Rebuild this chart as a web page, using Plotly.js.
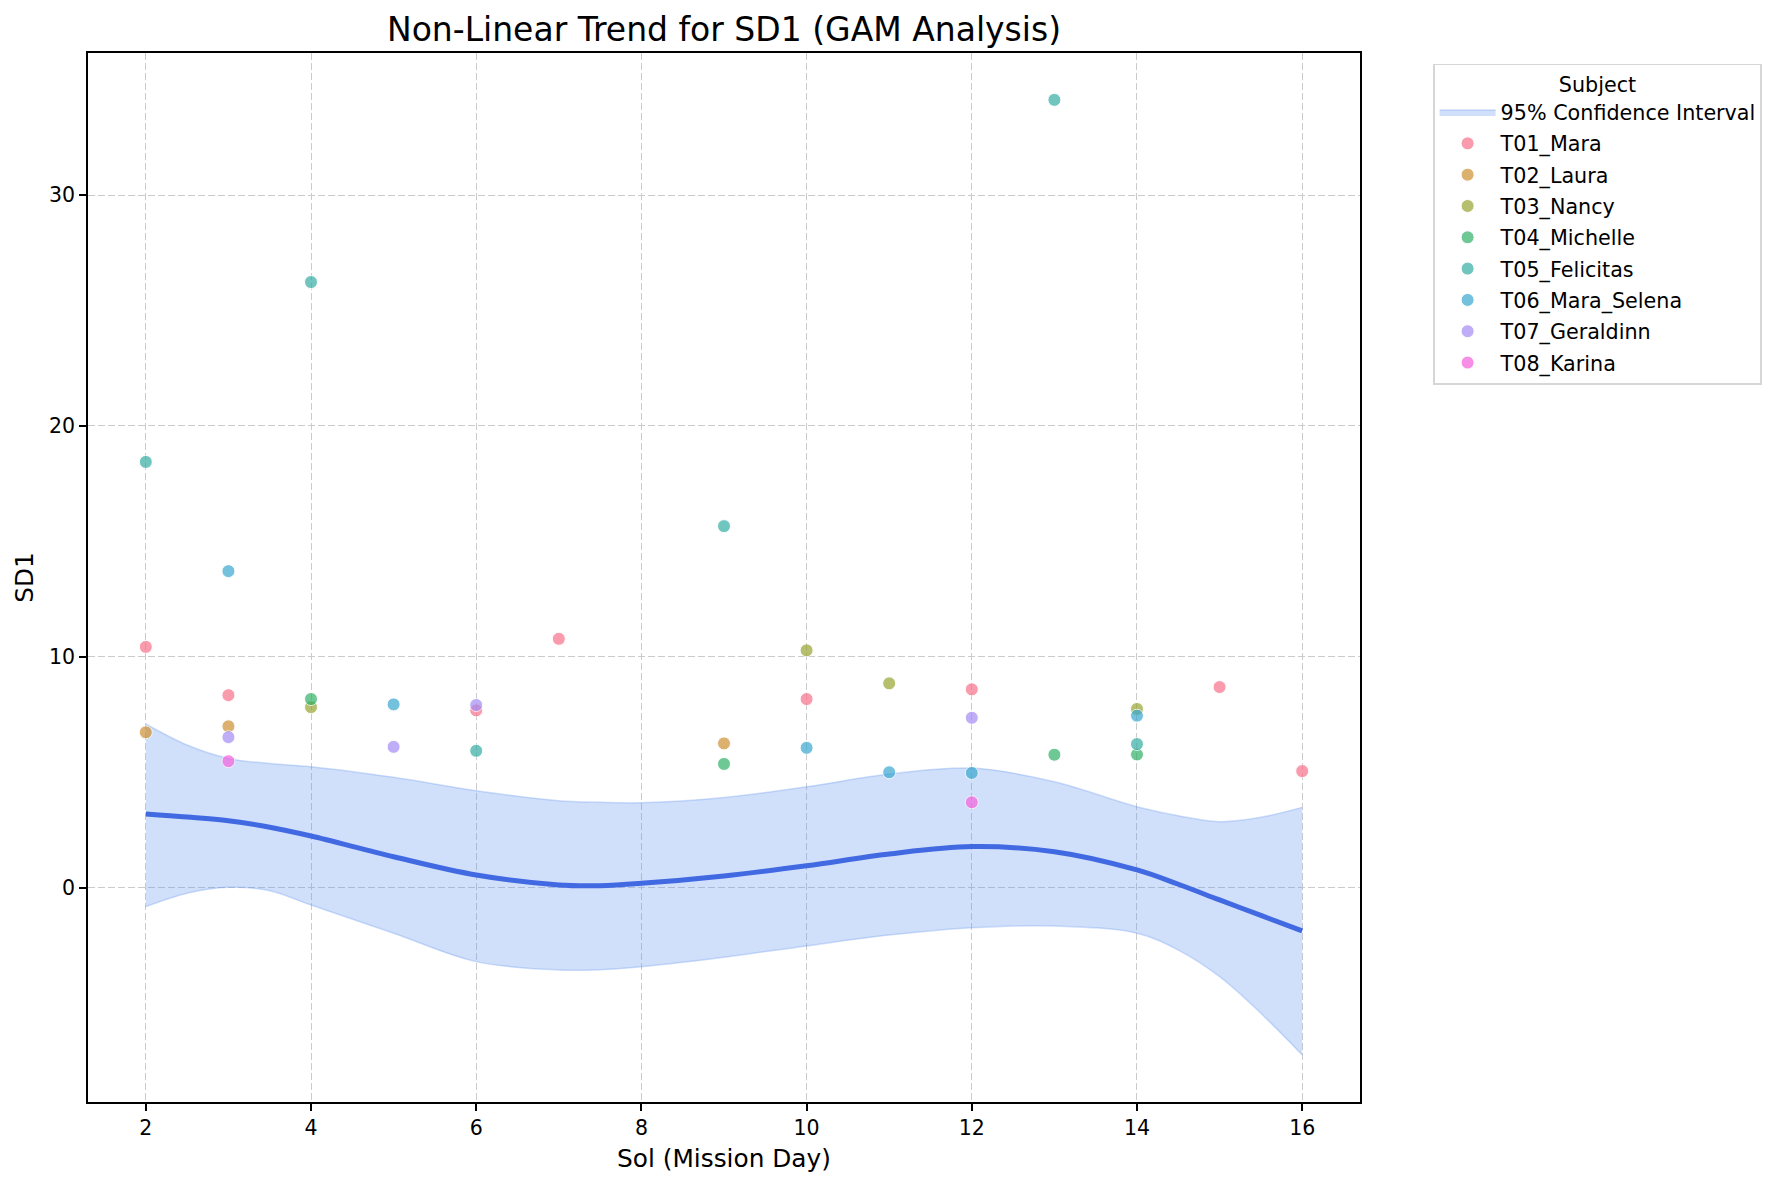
<!DOCTYPE html>
<html>
<head>
<meta charset="utf-8">
<script src="https://cdn.plot.ly/plotly-3.0.1.min.js"></script>
<style>
  html, body { margin: 0; padding: 0; background: #fff; }
  #chart { width: 1779px; height: 1184px; }
</style>
</head>
<body>
<div id="chart"></div>
<script>
// Subjects and their palette (husl, 8 colours)
const subjects = ["T01_Mara", "T02_Laura", "T03_Nancy", "T04_Michelle",
  "T05_Felicitas", "T06_Mara_Selena", "T07_Geraldinn", "T08_Karina"];
const subjectColors = ["#f77189", "#ce9032", "#97a431", "#32b166",
  "#36ada4", "#39a7d0", "#a48cf4", "#f561dd"];

// Observed SD1 per subject (sol, value)
const solT01 = [2, 3, 6, 7, 10, 12, 15, 16];
const sd1T01 = [10.43, 8.34, 7.68, 10.78, 8.17, 8.59, 8.69, 5.05];
const solT02 = [2, 3, 9];
const sd1T02 = [6.73, 6.99, 6.25];
const solT03 = [4, 10, 11, 14];
const sd1T03 = [7.82, 10.28, 8.85, 7.74];
const solT04 = [4, 9, 13, 14];
const sd1T04 = [8.17, 5.36, 5.76, 5.77];
const solT05 = [2, 4, 6, 9, 13, 14];
const sd1T05 = [18.44, 26.23, 5.93, 15.66, 34.12, 6.22];
const solT06 = [3, 5, 10, 11, 12, 14];
const sd1T06 = [13.71, 7.94, 6.06, 5.0, 4.97, 7.45];
const solT07 = [3, 5, 6, 12];
const sd1T07 = [6.52, 6.10, 7.91, 7.36];
const solT08 = [3, 12];
const sd1T08 = [5.48, 3.70];

const subjectSol = [solT01, solT02, solT03, solT04, solT05, solT06, solT07, solT08];
const subjectSd1 = [sd1T01, sd1T02, sd1T03, sd1T04, sd1T05, sd1T06, sd1T07, sd1T08];

// GAM fit and 95% confidence band
const gamSol = [2, 2.5, 3, 3.5, 4, 5, 6, 7, 7.5, 8, 9, 10, 11, 12, 13, 14, 14.5, 15, 15.5, 16];
const gamFit = [3.19, 3.06, 2.90, 2.62, 2.24, 1.34, 0.55, 0.12, 0.09, 0.19, 0.51, 0.95,
  1.46, 1.78, 1.56, 0.77, 0.15, -0.53, -1.2, -1.87];
const gamUpper = [7.09, 6.18, 5.6, 5.38, 5.24, 4.78, 4.2, 3.77, 3.7, 3.68, 3.91, 4.37,
  4.92, 5.18, 4.59, 3.51, 3.12, 2.86, 3.05, 3.48];
const gamLower = [-0.82, -0.24, 0.02, -0.13, -0.75, -1.97, -3.2, -3.56, -3.55, -3.42, -3.01, -2.52,
  -2.05, -1.73, -1.66, -1.97, -2.7, -3.85, -5.44, -7.24];

const FONT = "DejaVu Sans, Verdana, sans-serif";
const ciColor = "rgba(100,149,237,0.3)";

const traces = [];

// lower edge of the band (no legend), upper edge fills down to it
traces.push({
  type: "scatter", mode: "lines",
  x: gamSol, y: gamLower, legendgroup: "ci",
  line: { color: ciColor, width: 1.5, shape: "spline" },
  showlegend: false, hoverinfo: "skip",
});
traces.push({
  type: "scatter", mode: "lines",
  x: gamSol, y: gamUpper, legendgroup: "ci",
  fill: "tonexty", fillcolor: ciColor,
  line: { color: ciColor, width: 1.5, shape: "spline" },
  name: "95% Confidence Interval",
});
traces.push({
  type: "scatter", mode: "lines",
  x: gamSol, y: gamFit, legendgroup: "ci",
  line: { color: "#4169e1", width: 5, shape: "spline" },
  showlegend: false,
});

for (let i = 0; i < subjects.length; i++) {
  traces.push({
    type: "scatter", mode: "markers",
    x: subjectSol[i], y: subjectSd1[i],
    name: subjects[i], legendgroup: subjects[i],
    marker: {
      color: subjectColors[i], size: 13, opacity: 0.7,
      line: { color: "#ffffff", width: 1 },
    },
  });
}

const axisCommon = {
  showline: true, mirror: true, linecolor: "#000", linewidth: 1.6,
  ticks: "outside", ticklen: 7, tickwidth: 1.6, tickcolor: "#000",
  showgrid: true, gridcolor: "#cbcbcb", gridwidth: 1.3, griddash: "7px,3px",
  zeroline: false,
  tickfont: { family: FONT, size: 20.5, color: "#000" },
};

const layout = {
  width: 1779, height: 1184,
  paper_bgcolor: "#fff", plot_bgcolor: "#fff",
  margin: { l: 88, r: 419, t: 53, b: 82 },
  font: { family: FONT, color: "#000" },
  title: {
    text: "Non-Linear Trend for SD1 (GAM Analysis)",
    font: { family: FONT, size: 33, color: "#000" },
    x: 0.5, xref: "paper", xanchor: "center",
    y: 0.975, yref: "container", yanchor: "middle",
  },
  xaxis: Object.assign({}, axisCommon, {
    range: [1.3, 16.7], tick0: 2, dtick: 2,
    title: { text: "Sol (Mission Day)", font: { family: FONT, size: 24.8, color: "#000" }, standoff: 10 },
  }),
  yaxis: Object.assign({}, axisCommon, {
    range: [-9.28, 36.15], tick0: 0, dtick: 10,
    title: { text: "SD1", font: { family: FONT, size: 24.8, color: "#000" }, standoff: 8 },
  }),
  legend: {
    x: 1.0574, y: 0.9899, xanchor: "left", yanchor: "top",
    traceorder: "grouped", tracegroupgap: 1.4, itemwidth: 56,
    bgcolor: "#fff", bordercolor: "#d6d6d6", borderwidth: 1.6,
    font: { family: FONT, size: 20.7, color: "#000" },
    title: { text: "Subject", side: "top center", font: { family: FONT, size: 20.7, color: "#000" } },
  },
  showlegend: true,
};

Plotly.newPlot("chart", traces, layout, { displayModeBar: false, responsive: false });
</script>
</body>
</html>
